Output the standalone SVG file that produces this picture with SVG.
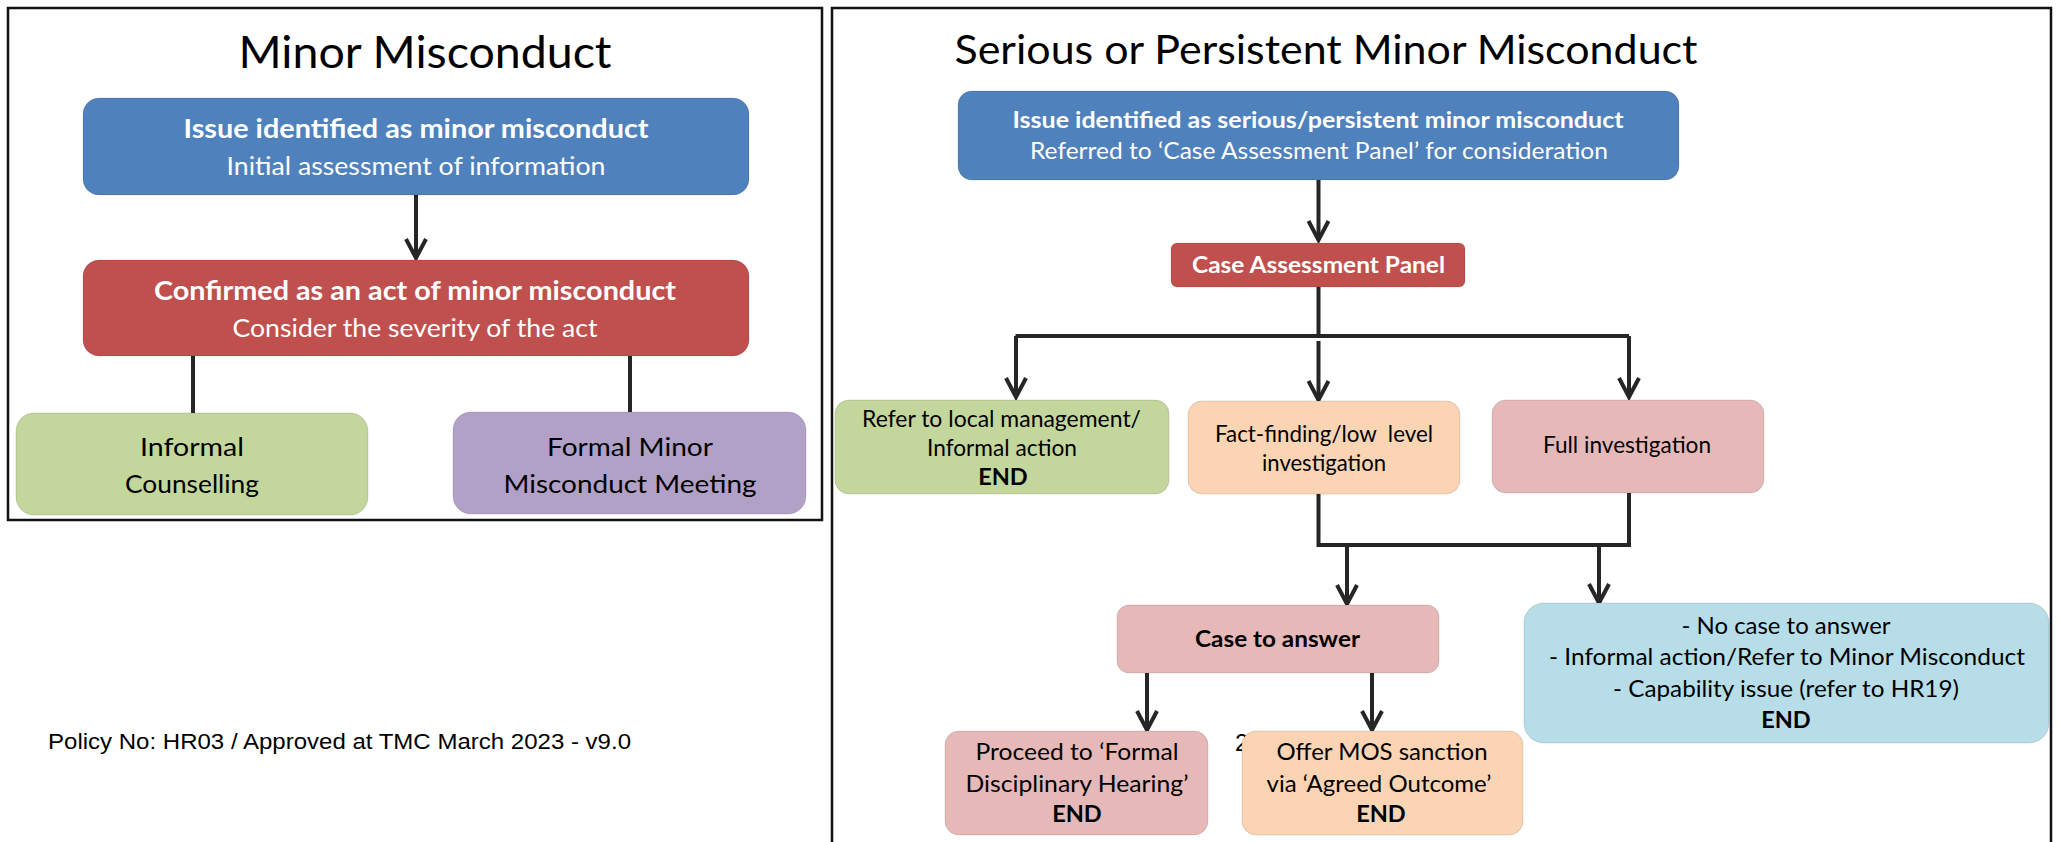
<svg xmlns="http://www.w3.org/2000/svg" width="2058" height="842" viewBox="0 0 2058 842">
<style>
  .panel{fill:#fff;stroke:#111;stroke-width:2.5}
  .box{stroke:#000;stroke-opacity:0.12;stroke-width:1}
  .blue{fill:#4F81BD}
  .red{fill:#C0504D}
  .green{fill:#C3D69B}
  .purple{fill:#B2A1C7}
  .peach{fill:#FBD4B4}
  .pink{fill:#E6B9B8}
  .sky{fill:#B7DEE8}
  text{font-family:Lato,"Open Sans",sans-serif;text-anchor:middle}
  .title{font-size:45px;fill:#000}
  .w{fill:#fff}
  .k{fill:#000}
  .b{font-weight:bold}
  .s27{font-size:27px}
  .s25{font-size:25px}
  .s23{font-size:23.5px}
  .foot{font-family:"Liberation Sans",Arial,sans-serif;font-size:22px;text-anchor:start;fill:#000}
  .ln{fill:none;stroke:#262626;stroke-width:4}
  .arr{fill:none;stroke:#262626;stroke-width:4;marker-end:url(#ah)}
</style>
<defs>
  <marker id="ah" markerUnits="userSpaceOnUse" viewBox="0 0 24 24" refX="21" refY="12" markerWidth="24" markerHeight="24" orient="auto">
    <path d="M2,2 L21,12 L2,22" fill="none" stroke="#262626" stroke-width="4" stroke-linejoin="miter"/>
  </marker>
</defs>
<rect width="2058" height="842" fill="#fff"/>

<g id="panel-left">
  <rect class="panel" x="8" y="8" width="814" height="512"/>
  <text class="title" x="425" y="68" textLength="373" lengthAdjust="spacingAndGlyphs">Minor Misconduct</text>
</g>
<g id="panel-right">
  <rect class="panel" x="832" y="8" width="1219" height="850"/>
  <text class="title" style="font-size:41.5px" x="1326" y="64" textLength="743" lengthAdjust="spacingAndGlyphs">Serious or Persistent Minor Misconduct</text>
</g>

<text id="footer" class="foot" x="48" y="749" textLength="583" lengthAdjust="spacingAndGlyphs">Policy No: HR03 / Approved at TMC March 2023 - v9.0</text>
<text id="page-no" class="foot" style="font-size:24px" x="1235" y="751">2</text>

<g id="connectors">
  <path class="arr" d="M416,195 V258"/>
  <path class="ln" d="M193,356 V413"/>
  <path class="ln" d="M630,356 V412"/>
  <path class="arr" d="M1318.5,180 V240"/>
  <path class="ln" d="M1318.5,287 V336 M1015.5,336 H1629"/>
  <path class="arr" d="M1016,336 V397"/>
  <path class="arr" d="M1318.5,341 V400"/>
  <path class="arr" d="M1629,336 V397"/>
  <path class="ln" d="M1318.5,494 V545 H1629 V493"/>
  <path class="arr" d="M1347,545 V604"/>
  <path class="arr" d="M1599,545 V603"/>
  <path class="arr" d="M1147,673 V730"/>
  <path class="arr" d="M1372,673 V730"/>
</g>

<g id="issue-minor">
  <rect class="box blue" x="83" y="98" width="666" height="97" rx="16"/>
  <text class="w b s27" x="416" y="138" textLength="465" lengthAdjust="spacingAndGlyphs">Issue identified as minor misconduct</text>
  <text class="w s25" x="416" y="175" textLength="379" lengthAdjust="spacingAndGlyphs">Initial assessment of information</text>
</g>
<g id="confirmed-minor">
  <rect class="box red" x="83" y="260" width="666" height="96" rx="16"/>
  <text class="w b s27" x="415" y="300" textLength="522" lengthAdjust="spacingAndGlyphs">Confirmed as an act of minor misconduct</text>
  <text class="w s25" x="415" y="337" textLength="365" lengthAdjust="spacingAndGlyphs">Consider the severity of the act</text>
</g>
<g id="informal-counselling">
  <rect class="box green" x="16" y="413" width="352" height="102" rx="18"/>
  <text class="k s25" x="192" y="456" textLength="104" lengthAdjust="spacingAndGlyphs">Informal</text>
  <text class="k s25" x="192" y="493" textLength="134" lengthAdjust="spacingAndGlyphs">Counselling</text>
</g>
<g id="formal-minor-meeting">
  <rect class="box purple" x="453" y="412" width="353" height="102" rx="18"/>
  <text class="k s25" x="630" y="456" textLength="166" lengthAdjust="spacingAndGlyphs">Formal Minor</text>
  <text class="k s25" x="630" y="493" textLength="253" lengthAdjust="spacingAndGlyphs">Misconduct Meeting</text>
</g>

<g id="issue-serious">
  <rect class="box blue" x="958" y="91" width="721" height="89" rx="14"/>
  <text class="w b s23" x="1318" y="128" textLength="611" lengthAdjust="spacingAndGlyphs">Issue identified as serious/persistent minor misconduct</text>
  <text class="w s23" x="1319" y="159" textLength="578" lengthAdjust="spacingAndGlyphs">Referred to ‘Case Assessment Panel’ for consideration</text>
</g>
<g id="case-assessment-panel">
  <rect class="box red" x="1171" y="243" width="294" height="44" rx="6"/>
  <text class="w b s23" x="1318.5" y="273" textLength="253" lengthAdjust="spacingAndGlyphs">Case Assessment Panel</text>
</g>
<g id="refer-local">
  <rect class="box green" x="835" y="400" width="334" height="94" rx="14"/>
  <text class="k s23" x="1001.5" y="427" textLength="279" lengthAdjust="spacingAndGlyphs">Refer to local management/</text>
  <text class="k s23" x="1002" y="456" textLength="150" lengthAdjust="spacingAndGlyphs">Informal action</text>
  <text class="k b s23" x="1003" y="485">END</text>
</g>
<g id="fact-finding">
  <rect class="box peach" x="1188" y="401" width="272" height="93" rx="14"/>
  <text class="k s23" x="1324" y="442" xml:space="preserve" textLength="218" lengthAdjust="spacingAndGlyphs">Fact-finding/low  level</text>
  <text class="k s23" x="1324" y="471" textLength="124" lengthAdjust="spacingAndGlyphs">investigation</text>
</g>
<g id="full-investigation">
  <rect class="box pink" x="1492" y="400" width="272" height="93" rx="14"/>
  <text class="k s23" x="1627" y="453" textLength="168" lengthAdjust="spacingAndGlyphs">Full investigation</text>
</g>
<g id="case-to-answer">
  <rect class="box pink" x="1117" y="605" width="322" height="68" rx="12"/>
  <text class="k b s23" x="1277.5" y="647" textLength="165" lengthAdjust="spacingAndGlyphs">Case to answer</text>
</g>
<g id="no-case">
  <rect class="box sky" x="1524" y="603" width="525" height="140" rx="20"/>
  <text class="k s23" x="1786" y="634" textLength="209" lengthAdjust="spacingAndGlyphs">- No case to answer</text>
  <text class="k s23" x="1787" y="665" textLength="476" lengthAdjust="spacingAndGlyphs">- Informal action/Refer to Minor Misconduct</text>
  <text class="k s23" x="1786" y="697" textLength="346" lengthAdjust="spacingAndGlyphs">- Capability issue (refer to HR19)</text>
  <text class="k b s23" x="1786" y="728">END</text>
</g>
<g id="formal-hearing">
  <rect class="box pink" x="945" y="731" width="263" height="104" rx="14"/>
  <text class="k s23" x="1077" y="760" textLength="203" lengthAdjust="spacingAndGlyphs">Proceed to ‘Formal</text>
  <text class="k s23" x="1077" y="792" textLength="223" lengthAdjust="spacingAndGlyphs">Disciplinary Hearing’</text>
  <text class="k b s23" x="1077" y="822">END</text>
</g>
<g id="agreed-outcome">
  <rect class="box peach" x="1242" y="731" width="281" height="104" rx="14"/>
  <text class="k s23" x="1382" y="760" textLength="211" lengthAdjust="spacingAndGlyphs">Offer MOS sanction</text>
  <text class="k s23" x="1379" y="792" textLength="225" lengthAdjust="spacingAndGlyphs">via ‘Agreed Outcome’</text>
  <text class="k b s23" x="1381" y="822">END</text>
</g>
</svg>
